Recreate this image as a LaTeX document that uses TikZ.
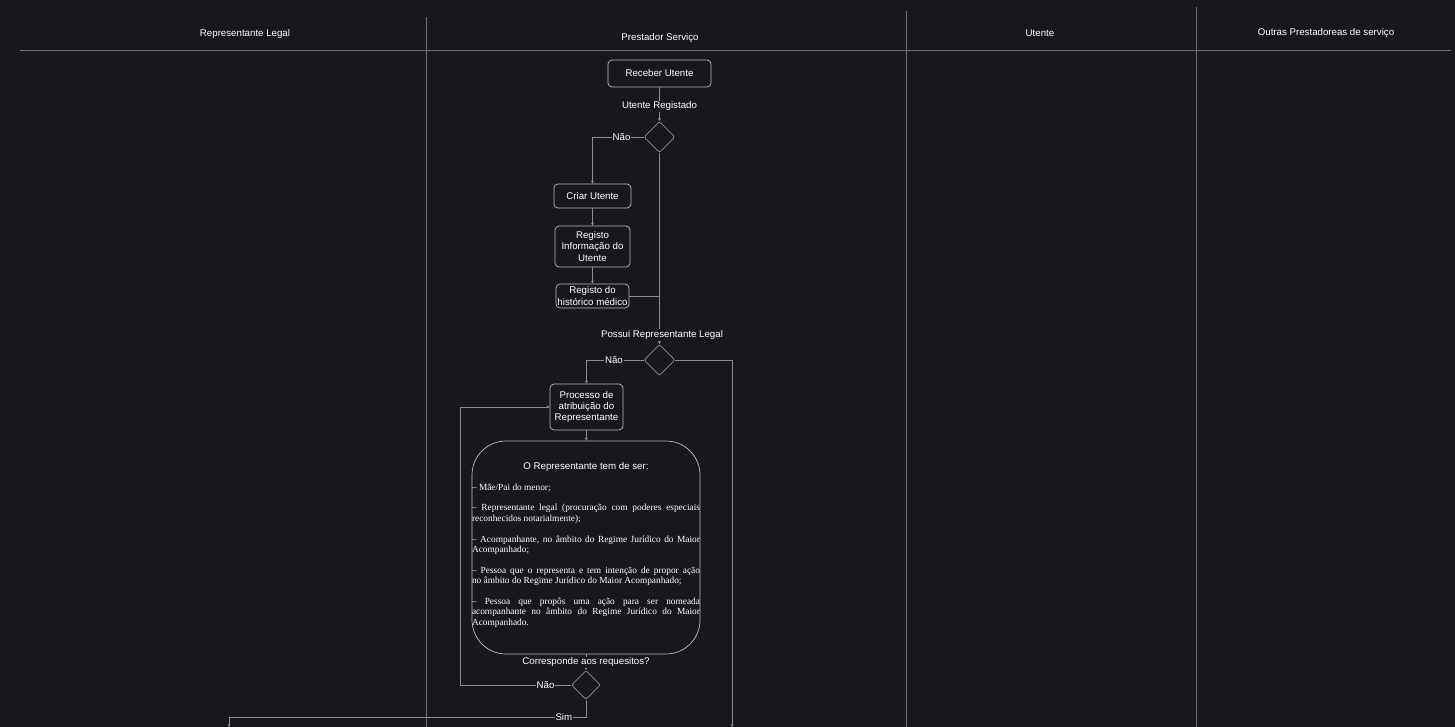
\documentclass[tikz,border=0pt]{standalone}
\usepackage{fontspec}
\setmainfont{Liberation Serif}
\setsansfont{Liberation Sans}
\usetikzlibrary{shapes.geometric,arrows.meta}
\definecolor{bg}{HTML}{19171D}
\definecolor{lane}{HTML}{6E6E72}
\definecolor{wire}{HTML}{8E8E90}
\definecolor{frame}{HTML}{BDBDBD}
\begin{document}
\begin{tikzpicture}[x=1pt,y=-1pt,
  font=\sffamily\fontsize{9.7}{11.3}\selectfont,
  every node/.style={text=white},
  lanehead/.style={font=\sffamily\fontsize{9.7}{11.3}\selectfont},
  task/.style={draw=frame,line width=0.7pt,rounded corners=4pt,align=center,inner sep=0pt},
  choice/.style={diamond,draw=wire,line width=0.8pt,minimum width=31pt,minimum height=31pt,inner sep=0pt,rounded corners=2pt},
  flow/.style={draw=wire,line width=0.8pt,-{Stealth[length=3pt,width=3pt]}},
  wirelabel/.style={fill=bg,inner sep=1pt}]
\fill[bg] (0,0) rectangle (1455,727);
\useasboundingbox (0,0) rectangle (1455,727);

% swimlanes
\draw[lane,line width=0.8pt] (20,50) -- (1451,50);
\draw[lane,line width=0.8pt] (426,17) -- (426,727);
\draw[lane,line width=0.8pt] (906,11) -- (906,727);
\draw[lane,line width=0.8pt] (1196,7) -- (1196,727);
\node[lanehead] (h1) at (245,34) {Representante Legal};
\node[lanehead] (h2) at (660,38) {Prestador Serviço};
\node[lanehead] (h3) at (1040,33) {Utente};
\node[lanehead] (h4) at (1326,33) {Outras Prestadoreas de serviço};

% activities
\node[task,minimum width=103pt,minimum height=27pt] (receber) at (659.5,73.5) {Receber Utente};
\node[choice] (reg) at (659.5,137) {};
\node[task,minimum width=77pt,minimum height=24pt] (criar) at (592.5,196) {Criar Utente};
\node[task,minimum width=75pt,minimum height=41pt] (info) at (592.5,246.5) {Registo\\Informação do\\Utente};
\node[task,minimum width=73pt,minimum height=24pt] (hist) at (592.5,296) {Registo do\\histórico médico};
\node[choice] (posrep) at (659.5,360) {};
\node[task,minimum width=73pt,minimum height=46pt] (proc) at (586.5,407) {Processo de\\atribuição do\\Representante};
\node[draw=frame,line width=0.7pt,rounded corners=34pt,minimum width=228pt,minimum height=213pt,inner sep=0pt] (req) at (586,547.5) {};
\node[anchor=north,text width=228pt,align=justify,inner sep=0pt] (reqtext) at (586,462) {%
  \setlength\parindent{0pt}\setlength\parskip{10.4pt}\hyphenpenalty=10000\tolerance=10000
  \leftskip=0pt\rightskip=0pt\parfillskip=0pt plus 1fil
  {\centering\sffamily\fontsize{9.7}{11.3}\selectfont O Representante tem de ser:\par}
  \rmfamily\fontsize{9.35}{10.4}\selectfont
  – Mãe/Pai do menor;\par
  – Representante legal (procuração com poderes especiais\linebreak reconhecidos notarialmente);\par
  – Acompanhante, no âmbito do Regime Jurídico do Maior\linebreak Acompanhado;\par
  – Pessoa que o representa e tem intenção de propor ação\linebreak no âmbito do Regime Jurídico do Maior Acompanhado;\par
  – Pessoa que propôs uma ação para ser nomeada\linebreak acompanhante no âmbito do Regime Jurídico do Maior\linebreak Acompanhado.\par};
\node[choice,minimum width=29pt,minimum height=29pt] (cumpre) at (586,685) {};

% off-page ends
\coordinate (outRight) at (732,727);
\coordinate (outLeft) at (229,727);

% connectors
\draw[flow] (receber) -- node[wirelabel,pos=0.56] (lreg) {Utente Registado} (reg);
\draw[flow] (reg.west) -| node[wirelabel,pos=0.216] (lnao1) {Não} (criar.north);
\draw[flow] (reg.south) -- (posrep.north);
\draw[flow] (criar) -- (info);
\draw[flow] (info) -- (hist);
\draw[draw=wire,line width=0.8pt] (hist.east) -- (reg.south |- hist.east);
\node[wirelabel] (lpos) at (662,335) {Possui Representante Legal};
\draw[flow] (posrep.west) -| node[wirelabel,pos=0.26] (lnao2) {Não} (proc.north);
\draw[flow] (posrep.east) -| (outRight);
\draw[flow] (proc) -- (req);
\draw[flow] (req.south) -- node[wirelabel,pos=0.5] (lcor) {Corresponde aos requesitos?} (cumpre.north);
\draw[flow] (cumpre.west) -- node[wirelabel,pos=0.23] (lnao3) {Não} (460,685) |- (proc.west);
\draw[flow] (cumpre.south) |- node[wirelabel,pos=0.531] (lsim) {Sim} (229,717) -- (outLeft);
\end{tikzpicture}
\end{document}
